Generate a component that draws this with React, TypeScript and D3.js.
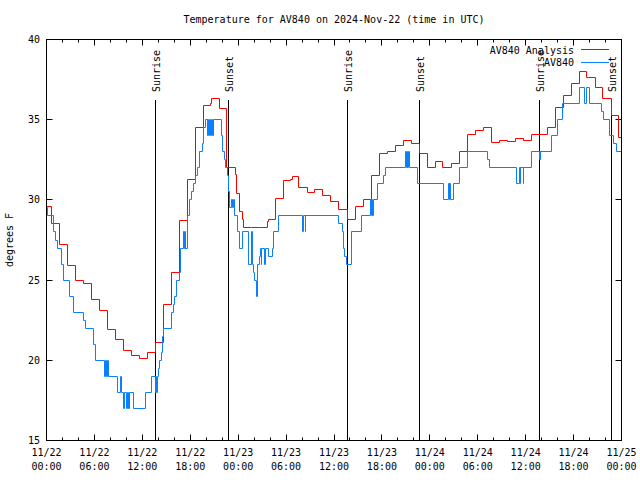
import React from "react";
import * as d3 from "d3";

const chartTitle = "Temperature for AV840 on 2024-Nov-22 (time in UTC)";
const yAxisLabel = "degrees F";
const seriesNames = ["AV840 Analysis", "AV840"];
const seriesColors = ["#ff0000", "#0a80ff"];

const yTicks = [15, 20, 25, 30, 35, 40];
const xTickHours = [0, 6, 12, 18, 24, 30, 36, 42, 48, 54, 60, 66, 72];
const xTickDates = ["11/22", "11/22", "11/22", "11/22", "11/23", "11/23", "11/23", "11/23", "11/24", "11/24", "11/24", "11/24", "11/25"];
const xTickTimes = ["00:00", "06:00", "12:00", "18:00", "00:00", "06:00", "12:00", "18:00", "00:00", "06:00", "12:00", "18:00", "00:00"];

const sunLabels = ["Sunrise", "Sunset", "Sunrise", "Sunset", "Sunrise", "Sunset"];
const sunHours = [13.69, 22.83, 37.73, 46.75, 61.77, 70.79];

// hours since 11/22 00:00 UTC
const analysisHours = [0, 0.66, 1.67, 2.67, 3.67, 4.67, 5.67, 6.67, 7.68, 8.68, 9.68, 10.68, 11.68, 12.61, 13.61, 14.61, 15.69, 16.69, 17.69, 18.62, 19.62, 20.54, 20.7, 21.63, 22.54, 23.67, 23.83, 24.17, 24.58, 24.67, 25.67, 26.67, 27.67, 27.84, 28.68, 29.68, 30.59, 30.77, 31.59, 32.68, 33.6, 34.6, 35.6, 36.6, 37.69, 38.66, 39.66, 40.73, 41.74, 42.74, 43.66, 44.67, 45.67, 46.67, 47.67, 48.67, 49.59, 50.68, 51.68, 52.68, 53.68, 54.68, 55.69, 56.69, 57.69, 58.69, 59.69, 60.69, 62.7, 63.7, 64.7, 65.7, 66.7, 67.62, 67.87, 68.71, 69.62, 70.71, 71.66, 72];
const analysisTemps = [29.6, 28.5, 27.2, 25.9, 25.0, 24.8, 23.8, 23.1, 21.9, 21.3, 20.6, 20.3, 20.1, 20.5, 21.1, 23.5, 25.5, 28.7, 31.25, 34.5, 35.9, 36.0, 36.3, 35.7, 32.0, 31.6, 30.4, 29.3, 28.75, 28.3, 28.25, 28.3, 28.65, 28.8, 30.1, 31.2, 31.3, 31.45, 30.8, 30.45, 30.65, 30.25, 29.9, 29.4, 28.75, 29.6, 30.0, 31.5, 32.9, 33.0, 33.4, 33.7, 33.5, 32.9, 32.0, 32.4, 32.0, 32.25, 33.0, 34.1, 34.3, 34.5, 33.6, 33.7, 33.65, 33.8, 33.7, 34.05, 34.5, 35.75, 36.5, 37.25, 38.0, 37.65, 37.6, 37.0, 36.3, 35.25, 33.9, 33.9];

const obsPoints: [number, number][] = [
  [0, 29.5], [0.16, 29], [0.91, 28], [1.16, 27.5], [1.34, 27], [1.92, 26], [2.17, 25], [2.92, 24], [3.42, 23],
  [4.67, 22.5], [4.85, 22], [5.92, 21], [6.17, 20], [7.26, 19], [7.45, 20], [7.54, 19], [7.7, 20], [7.8, 19],
  [8.93, 18], [9.27, 19], [9.39, 18], [9.68, 17], [9.8, 18], [9.98, 17], [10.11, 18], [10.27, 17], [10.4, 18],
  [10.93, 17], [12.36, 18], [13.19, 19], [13.61, 18], [13.69, 19], [13.77, 18], [13.86, 19], [14.02, 19.5],
  [14.19, 20], [14.36, 20.5], [14.53, 21.5], [14.69, 22], [15.61, 23], [15.87, 23.5], [16.03, 24], [16.28, 25],
  [16.62, 25.5], [16.78, 27], [17.19, 28], [17.28, 27], [17.37, 28], [17.44, 27], [17.62, 29], [17.94, 30],
  [18.12, 30.5], [18.44, 31], [18.7, 31.5], [18.87, 32], [19.12, 33], [19.53, 33.5], [19.62, 34.5], [19.95, 35],
  [20.12, 34], [20.2, 35], [20.32, 34], [20.41, 35], [20.54, 34], [20.62, 35], [20.75, 34], [20.87, 35],
  [21.88, 34], [22.04, 33], [22.29, 32.5], [22.45, 32], [22.66, 31.5], [22.83, 30.5], [22.92, 29.5], [23.17, 30],
  [23.25, 29.5], [23.42, 30], [23.54, 29], [23.92, 28], [24.17, 27], [24.51, 28], [25.26, 26], [25.63, 28],
  [25.76, 26], [25.92, 25.5], [26.01, 25], [26.3, 24], [26.38, 25], [26.46, 26], [26.62, 26.5], [26.83, 27],
  [26.88, 26], [26.96, 27], [27.3, 26], [27.36, 27], [27.84, 26.5], [28.26, 27],
  [28.42, 28], [29.09, 29], [32.09, 28], [32.14, 29], [32.38, 28], [32.43, 29], [36.6, 28.5], [37.03, 28],
  [37.15, 27], [37.32, 26.5], [37.57, 26], [38.15, 28], [39.48, 29], [40.57, 30], [40.66, 29], [40.76, 30],
  [40.84, 29], [40.91, 30], [41.49, 31], [42.16, 31.5], [42.41, 32], [44.99, 33], [45.08, 32], [45.17, 33],
  [45.24, 32], [45.33, 33], [45.42, 32], [46.49, 31], [49.75, 30], [50.34, 31], [50.42, 30], [50.5, 31],
  [50.59, 30], [51.0, 31], [51.75, 32], [52.76, 33], [55.26, 32.5], [55.43, 32], [58.85, 31], [59.18, 32],
  [59.35, 31], [59.38, 32], [59.69, 31], [59.72, 32],
  [60.69, 33], [61.7, 32.5], [61.77, 33], [61.82, 32.5], [61.9, 33], [63.2, 34], [63.95, 35], [64.61, 36],
  [66.7, 37], [67.37, 36], [67.62, 37], [67.96, 36], [69.46, 35.5], [69.75, 35], [70.5, 34], [70.96, 33.5],
  [71.34, 33], [72, 33],
];

const W = 640;
const H = 480;
const left = 46.5;
const right = 621.5;
const top = 39.5;
const bottom = 440.5;
const FONT = "DejaVu Sans Mono, Liberation Mono, monospace";

const snap = (v: number) => Math.round(v - 0.5) + 0.5;

export default function App() {
  const x = d3.scaleLinear().domain([0, 72]).range([left, right]);
  const y = d3.scaleLinear().domain([15, 40]).range([bottom, top]);

  const line = d3
    .line<[number, number]>()
    .x((d) => snap(x(d[0])))
    .y((d) => snap(y(d[1])))
    .curve(d3.curveStepAfter);

  const analysisPts: [number, number][] = analysisHours.map((h, i) => [h, analysisTemps[i]]);
  const minorHours = d3.range(0, 73, 2).filter((h) => h % 6 !== 0);

  return (
    <svg
      width={W}
      height={H}
      style={{ position: "absolute", left: 0, top: 0, background: "#fff" }}
      fontFamily={FONT}
      fontSize={10}
    >
      <rect x={0} y={0} width={W} height={H} fill="#fff" />
      <text x={334} y={23} textAnchor="middle">{chartTitle}</text>

      {yTicks.map((t) => (
        <g key={"y" + t}>
          <line x1={left} x2={left + 6} y1={snap(y(t))} y2={snap(y(t))} stroke="#000" />
          <line x1={right - 6} x2={right} y1={snap(y(t))} y2={snap(y(t))} stroke="#000" />
          <text x={40} y={y(t) + 3.5} textAnchor="end">{t}</text>
        </g>
      ))}

      {xTickHours.map((h, i) => {
        const px = snap(x(h));
        return (
          <g key={"x" + h}>
            <line x1={px} x2={px} y1={bottom} y2={bottom - 6} stroke="#000" />
            <line x1={px} x2={px} y1={top} y2={top + 6} stroke="#000" />
            <text x={x(h)} y={456} textAnchor="middle">{xTickDates[i]}</text>
            <text x={x(h)} y={470} textAnchor="middle">{xTickTimes[i]}</text>
          </g>
        );
      })}
      {minorHours.map((h) => {
        const px = snap(x(h));
        return (
          <g key={"m" + h}>
            <line x1={px} x2={px} y1={bottom} y2={bottom - 3} stroke="#000" />
            <line x1={px} x2={px} y1={top} y2={top + 3} stroke="#000" />
          </g>
        );
      })}

      <text transform={`translate(13,240) rotate(-90)`} textAnchor="middle">{yAxisLabel}</text>

      {sunHours.map((h, i) => {
        const px = snap(x(h));
        return (
          <g key={"s" + i}>
            <line x1={px} x2={px} y1={100} y2={bottom} stroke="#000" />
            <text transform={`translate(${px + 4.5},92) rotate(-90)`} textAnchor="start">{sunLabels[i]}</text>
          </g>
        );
      })}

      <path d={line(analysisPts) || ""} fill="none" stroke={seriesColors[0]} strokeWidth={1} />
      <path d={line(obsPoints) || ""} fill="none" stroke={seriesColors[1]} strokeWidth={1} />

      <text x={574} y={53.5} textAnchor="end">{seriesNames[0]}</text>
      <line x1={581} x2={609} y1={49.5} y2={49.5} stroke={seriesColors[0]} />
      <text x={574} y={66} textAnchor="end">{seriesNames[1]}</text>
      <line x1={581} x2={609} y1={62.5} y2={62.5} stroke={seriesColors[1]} />

      <rect x={left} y={top} width={right - left} height={bottom - top} fill="none" stroke="#000" />
    </svg>
  );
}
